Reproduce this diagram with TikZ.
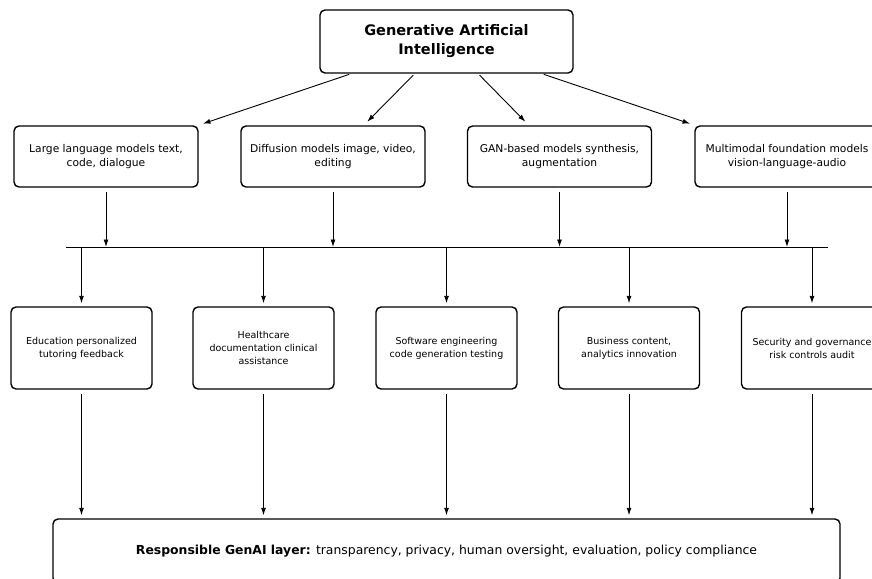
\documentclass[tikz,border=0pt]{standalone}
\usepackage{fontspec}
\setmainfont{DejaVu Sans}
\usetikzlibrary{arrows.meta}

\tikzset{
  box/.style={draw, line width=1.4pt, rounded corners=5pt, align=center, fill=white},
  modelbox/.style={box, minimum width=184pt, minimum height=61pt, font=\fontsize{10.7}{14}\selectfont},
  usebox/.style={box, minimum width=141pt, minimum height=82pt, font=\fontsize{9.5}{13}\selectfont},
  arr/.style={-{Latex[length=7.5pt,width=5pt]}, line width=0.9pt},
}

\begin{document}
\begin{tikzpicture}[x=1pt, y=-1pt]
        % Page frame, the right and bottom boxes run off it
        \useasboundingbox (0,0) rectangle (872,578);
        \clip (0,0) rectangle (872,578);

        % Top node
        \node[box, minimum width=253pt, minimum height=63pt, font=\fontsize{14.5}{19}\selectfont\bfseries] (top) at (446.5,41.5) {Generative Artificial\\Intelligence};

        % Model families
        \node[modelbox] (llm) at (106,156.5) {Large language models text,\\code, dialogue};
        \node[modelbox] (diff) at (333,156.5) {Diffusion models image, video,\\editing};
        \node[modelbox] (gan) at (559.5,156.5) {GAN-based models synthesis,\\augmentation};
        \node[modelbox] (mm) at (787,156.5) {Multimodal foundation models\\vision-language-audio};

        % Arrows from the top node
        \foreach \m in {llm, diff, gan, mm}
            \draw[arr, shorten <=2pt, shorten >=5pt] (top) -- (\m);

        % Shared bus line
        \coordinate (busL) at (66,247);
        \coordinate (busR) at (828,247);
        \draw[line width=0.9pt] (busL) -- (busR);
        \foreach \m in {llm, diff, gan, mm}
            \draw[arr, shorten <=4pt] (\m) -- (\m |- busL);

        % Application areas
        \node[usebox] (edu) at (81.5,348) {Education personalized\\tutoring feedback};
        \node[usebox] (health) at (263.5,348) {Healthcare\\documentation clinical\\assistance};
        \node[usebox] (soft) at (446.5,348) {Software engineering\\code generation testing};
        \node[usebox] (biz) at (629,348) {Business content,\\analytics innovation};
        \node[usebox] (sec) at (812,348) {Security and governance\\risk controls audit};

        % Responsible layer at the bottom
        \node[box, minimum width=787pt, minimum height=64pt, font=\fontsize{12.4}{15}\selectfont] (resp) at (446.5,551) {\textbf{Responsible GenAI layer:} transparency, privacy, human oversight, evaluation, policy compliance};

        % Arrows bus -> areas -> responsible layer
        \foreach \u in {edu, health, soft, biz, sec} {
            \draw[arr, shorten >=3pt] (\u |- busL) -- (\u);
            \draw[arr, shorten <=4pt, shorten >=3pt] (\u) -- (\u |- resp.north);
        }
    \end{tikzpicture}
\end{document}
